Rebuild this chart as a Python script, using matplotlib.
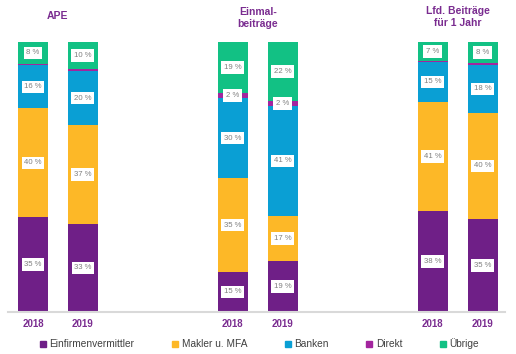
import numpy as np
import matplotlib.pyplot as plt
from matplotlib.lines import Line2D

plt.rcParams['font.family'] = ['Liberation Sans', 'DejaVu Sans']

# data
years = ['2018', '2019', '2018', '2019', '2018', '2019']
groups = ['APE', 'Einmal-\nbeiträge', 'Lfd. Beiträge\nfür 1 Jahr']
series = ['Einfirmenvermittler', 'Makler u. MFA', 'Banken', 'Direkt', 'Übrige']
einfirmen = [35, 33, 15, 19, 38, 35]
makler = [40, 37, 35, 17, 41, 40]
banken = [16, 20, 30, 41, 15, 18]
direkt = [0.5, 1, 2, 2, 0.5, 0.7]
uebrige = [8, 10, 19, 22, 7, 8]
# which Direkt values get a label box
show_direkt = [False, False, True, True, False, False]

colors = ['#6F1F87', '#FDB827', '#0A9FD4', '#A3259E', '#12C184']
purple_txt = '#7A2C90'

x = np.array([0, 1, 4, 5, 8, 9])
vals = np.array([einfirmen, makler, banken, direkt, uebrige], dtype=float)
tot = vals.sum(axis=0)
share = vals / tot * 100

fig = plt.figure(figsize=(5.16, 3.54), dpi=100)
ax = fig.add_axes([0.0155, 0.1186, 0.9635, 0.7628])

bottom = np.zeros(len(x))
for i, name in enumerate(series):
    ax.bar(x, share[i], bottom=bottom, width=0.6, color=colors[i], label=name)
    for j in range(len(x)):
        if i == 3 and not show_direkt[j]:
            continue
        ax.text(x[j], bottom[j] + share[i][j] / 2, f'{vals[i][j]:g} %',
                ha='center', va='center', fontsize=5.6, color='#7F7F7F',
                bbox=dict(boxstyle='square,pad=0.35', fc='white', ec='none'))
    bottom += share[i]

ax.set_xlim(-0.5, 9.45)
ax.set_ylim(0, 100)
for s in ax.spines.values():
    s.set_visible(False)
ax.set_yticks([])
ax.set_xticks(x)
ax.set_xticklabels(years, fontsize=7, fontweight='bold', color=purple_txt)
ax.tick_params(axis='x', length=0, pad=5)
ax.axhline(0, color='#D9D9D9', lw=1.5, clip_on=False)

# group titles (vertical centres in y units above the bars)
for gx, gy, g in zip([0.5, 4.5, 8.5], [109.6, 108.7, 109.2], groups):
    ax.text(gx, gy, g, ha='center', va='center', fontsize=7.5, fontweight='bold',
            color=purple_txt, linespacing=1.25)

handles = [Line2D([], [], marker='s', ls='none', color=c, markersize=4) for c in colors]
fig.legend(handles, series, loc='lower center', bbox_to_anchor=(0.5, -0.012), ncol=5,
           frameon=False, fontsize=7.3, handletextpad=0.05, columnspacing=3.4,
           handlelength=1.2, labelcolor='#404040')

fig.savefig('out.png', dpi=100)
